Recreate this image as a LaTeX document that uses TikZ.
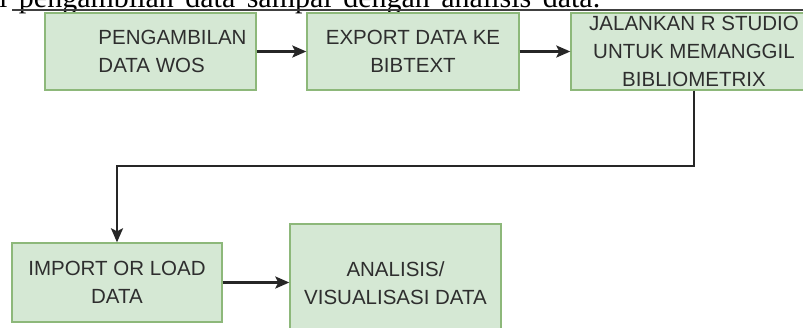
\documentclass[tikz,border=0pt]{standalone}
\usepackage{fontspec}
\setmainfont{Liberation Serif}
\newfontfamily\boxfont{Liberation Sans}
\usetikzlibrary{arrows.meta}
\definecolor{boxfill}{HTML}{D5E8D4}
\definecolor{boxline}{HTML}{8DB87A}
\definecolor{inkgray}{HTML}{2E2E2E}
\definecolor{linegray}{HTML}{262626}
\tikzset{
  greenbox/.style={draw=boxline, fill=boxfill, line width=1.4pt, rectangle, inner sep=0pt,
    align=center, text=inkgray, font=\boxfont\fontsize{20.5}{28}\selectfont},
  boxtext/.style={inner sep=0pt, text=inkgray, font=\boxfont\fontsize{20.5}{28}\selectfont},
  conn/.style={draw=linegray, line width=2.3pt, -{Stealth[length=14pt,width=12pt,inset=3pt]}},
}
\begin{document}
\begin{tikzpicture}[x=1pt,y=-1pt]
\useasboundingbox (0,0) rectangle (803,327);
\fill[white] (0,0) rectangle (803,327);
\begin{scope}
\clip (0,0) rectangle (803,327);
\node[anchor=base west, inner sep=0pt, font=\fontsize{30}{32}\selectfont] (caption) at (-1,7.3)
  {\makebox[601pt][s]{i pengambilan data sampai dengan analisis data.}};
\coordinate (rulestart) at (12,10);
\coordinate (ruleend) at (803,10);
\draw[line width=1.4pt, draw=black!75] (rulestart) -- (ruleend);

\node[greenbox, minimum width=211pt, minimum height=77pt] (b1) at (150.5,51.5) {};
\node[boxtext, align=left] (t1) at (172.5,51.5) {PENGAMBILAN\\DATA WOS};
\node[greenbox, minimum width=212pt, minimum height=77pt] (b2) at (413,51.5) {EXPORT DATA KE\\BIBTEXT};
\node[greenbox, minimum width=246pt, minimum height=77pt] (b3) at (694,51.5) {JALANKAN R STUDIO\\UNTUK MEMANGGIL\\BIBLIOMETRIX};
\node[greenbox, minimum width=210pt, minimum height=79pt] (b4) at (117,282.5) {IMPORT OR LOAD\\DATA};
\node[greenbox, minimum width=211pt, minimum height=119pt] (b5) at (395.5,283.5) {ANALISIS/\\VISUALISASI DATA};

\draw[conn] (b1.east) -- (b2.west);
\draw[conn] (b2.east) -- (b3.west);
\coordinate (turn) at (0,166);
\draw[conn] (b3.south) -- (b3.south |- turn) -| (b4.north);
\draw[conn] (b4.east) -- (b4.east -| b5.west);
\end{scope}
\end{tikzpicture}
\end{document}
